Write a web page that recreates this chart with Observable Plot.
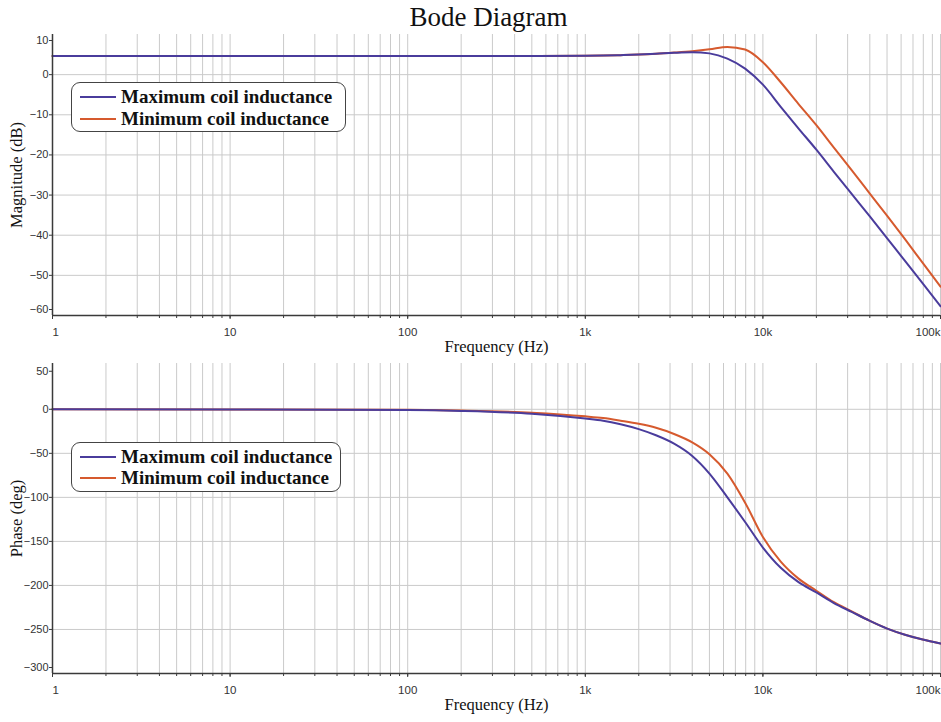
<!DOCTYPE html>
<html>
<head>
<meta charset="utf-8">
<script src="https://cdn.jsdelivr.net/npm/d3@7"></script>
<script src="https://cdn.jsdelivr.net/npm/@observablehq/plot@0.6"></script>
<style>
  html, body { margin: 0; padding: 0; background: #ffffff; }
  #wrap { position: relative; width: 941px; height: 722px; overflow: hidden; }
  #title { height: 30px; line-height: 34px; text-align: center; font-family: "Liberation Serif", "Times New Roman", serif; font-size: 27px; color: #111; padding-left: 36px; box-sizing: border-box; }
  svg { display: block; }
  .legend { position: absolute; background: #fff; border: 1.5px solid #444; border-radius: 9px; box-sizing: border-box; }
  .legend .row { position: absolute; left: 0; height: 22px; display: flex; align-items: center; }
  .legend .sw { width: 36px; height: 0; border-top: 2.5px solid; margin-left: 8px; margin-right: 5px; }
  .legend .lab { font-family: "Liberation Serif", "Times New Roman", serif; font-weight: bold; font-size: 19px; color: #111; white-space: nowrap; }
</style>
</head>
<body>
<div id="wrap">
  <div id="title">Bode Diagram</div>
  <div id="p1"></div>
  <div id="p2"></div>
</div>
<script>
// ---------- data ----------
const seriesNames = ["Maximum coil inductance", "Minimum coil inductance"];
const seriesColors = ["#4a3c9c", "#d65a2e"];

const freq = [1, 10, 100, 200, 500, 1000, 1260, 1580, 2000, 2500, 3160, 4000, 5000, 6310, 7940,
              10000, 12600, 15800, 20000, 25100, 31600, 39800, 50100, 63100, 79400, 100000];

const magMax = [4.65, 4.65, 4.65, 4.65, 4.65, 4.7, 4.75, 4.85, 5.0, 5.2, 5.45, 5.6, 5.3, 4.0, 1.5,
                -2.5, -8.0, -13.3, -18.7, -24.2, -29.7, -35.2, -40.8, -46.4, -52.0, -57.7];
const magMin = [4.65, 4.65, 4.65, 4.65, 4.65, 4.7, 4.75, 4.85, 5.0, 5.2, 5.5, 5.85, 6.3, 6.9, 6.25,
                3.1, -1.9, -7.2, -12.6, -18.2, -23.8, -29.5, -35.2, -41.0, -46.9, -52.8];

const phaseMax = [0, -0.1, -0.8, -1.8, -5, -10.5, -13, -17, -22.5, -29.5, -39, -53, -73, -100, -128,
                  -157, -180, -196, -208, -220, -230, -240, -249, -256, -261.5, -266];
const phaseMin = [0, -0.1, -0.6, -1.4, -3.8, -8, -10, -13, -16.5, -21, -28, -37.5, -51, -73, -106,
                  -145, -173, -192, -206, -219, -229.5, -240, -249, -256, -261.5, -266];

const freqTicks = [1, 10, 100, 1000, 10000, 100000];
const freqTickLabels = ["1", "10", "100", "1k", "10k", "100k"];
const magTicks = [10, 0, -10, -20, -30, -40, -50, -60];
const phaseTicks = [50, 0, -50, -100, -150, -200, -250, -300];

// ---------- helpers ----------
const serif = "Liberation Serif, Times New Roman, serif";
const sans = "Liberation Sans, Arial, sans-serif";
const gridColor = "#cacaca";
const axisColor = "#3a3a3a";
const xDomain = [1, 100000];
const minorTicks = d3.scaleLog().domain(xDomain).ticks();
const fmtX = d => freqTickLabels[freqTicks.indexOf(d)];

function rows(vals, name) { return freq.map((f, i) => ({f, v: vals[i], s: name})); }

function panel({yDomain, yTicks, maxVals, minVals, height, marginTop, marginBottom, yLabel}) {
  const data = [...rows(minVals, seriesNames[1]), ...rows(maxVals, seriesNames[0])];
  const inner = yTicks.slice(1, -1);
  const axX = (ticks, anchor) => Plot.axisX(ticks, {
    tickFormat: fmtX, tickSize: 4, tickPadding: 8, fontSize: 11.5, fontFamily: sans,
    fill: "#333", stroke: axisColor, textAnchor: anchor, label: null
  });
  const axY = (ticks, dy) => Plot.axisY(ticks, {
    tickSize: 3, tickPadding: 1, fontSize: 11, fontFamily: sans, fill: "#333",
    stroke: axisColor, dy, label: null
  });
  return Plot.plot({
    width: 941, height, marginLeft: 52, marginRight: 1, marginTop, marginBottom,
    style: {background: "transparent", overflow: "visible"},
    x: {type: "log", domain: xDomain},
    y: {type: "linear", domain: yDomain},
    color: {domain: seriesNames, range: seriesColors},
    marks: [
      Plot.gridX(minorTicks, {stroke: gridColor, strokeOpacity: 1, strokeWidth: 1}),
      Plot.gridY(inner, {stroke: gridColor, strokeOpacity: 1, strokeWidth: 1}),
      Plot.axisX(minorTicks, {tickFormat: () => "", tickSize: 3, stroke: axisColor, label: null}),
      Plot.line(data, {x: "f", y: "v", z: "s", stroke: "s", strokeWidth: 2, curve: "monotone-x"}),
      Plot.ruleY([yDomain[0]], {stroke: axisColor, strokeWidth: 1.5}),
      Plot.ruleX([xDomain[0]], {stroke: axisColor, strokeWidth: 1.5}),
      axX([freqTicks[0]], "start"),
      axX(freqTicks.slice(1, -1), "middle"),
      axX([freqTicks[freqTicks.length - 1]], "end"),
      axY([yTicks[0]], 6),
      axY(inner, 0),
      axY([yTicks[yTicks.length - 1]], -6),
      Plot.text(["Frequency (Hz)"], {frameAnchor: "bottom", dy: 36, fontSize: 16.5, fontFamily: serif, fill: "#111"}),
      Plot.text([yLabel], {frameAnchor: "left", textAnchor: "middle", rotate: -90, dx: -36, fontSize: 16.5, fontFamily: serif, fill: "#111"})
    ]
  });
}

const p1 = panel({yDomain: [-60, 10], yTicks: magTicks, maxVals: magMax, minVals: magMin,
  height: 332, marginTop: 4, marginBottom: 47, yLabel: "Magnitude (dB)"});
const p2 = panel({yDomain: [-300, 52], yTicks: phaseTicks, maxVals: phaseMax, minVals: phaseMin,
  height: 360, marginTop: 1, marginBottom: 49, yLabel: "Phase (deg)"});
document.getElementById("p1").appendChild(p1);
document.getElementById("p2").appendChild(p2);

// ---------- legends ----------
function legend(left, top, width, height, rowTops) {
  const el = document.createElement("div");
  el.className = "legend";
  Object.assign(el.style, {left: left + "px", top: top + "px", width: width + "px", height: height + "px"});
  seriesNames.forEach((name, i) => {
    const r = document.createElement("div");
    r.className = "row";
    r.style.top = rowTops[i] + "px";
    const sw = document.createElement("span");
    sw.className = "sw";
    sw.style.borderTopColor = seriesColors[i];
    const lab = document.createElement("span");
    lab.className = "lab";
    lab.textContent = name;
    r.appendChild(sw); r.appendChild(lab);
    el.appendChild(r);
  });
  document.getElementById("wrap").appendChild(el);
}
legend(71, 82, 275, 50, [3, 25]);
legend(71, 442, 270, 50, [3, 24]);
</script>
</body>
</html>
